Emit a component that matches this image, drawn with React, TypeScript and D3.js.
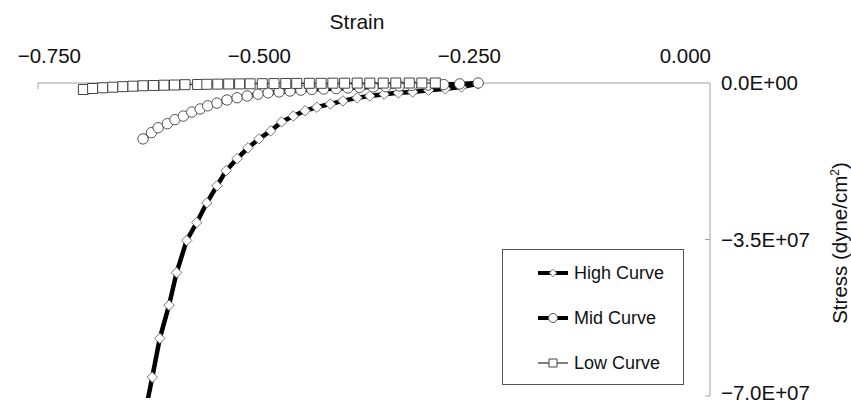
import React from 'react';
import * as d3 from 'd3';

// strain values and stress values (stress in units of 1e6 dyne/cm2)
const highStrain = [-0.675, -0.664, -0.655, -0.644, -0.635, -0.623, -0.611, -0.599, -0.587, -0.576, -0.563, -0.55, -0.537, -0.523, -0.51, -0.496, -0.482, -0.468, -0.452, -0.437, -0.42, -0.405, -0.388, -0.371, -0.354, -0.335, -0.315, -0.296, -0.276];
const highStress = [-76.2, -65.8, -57.1, -49.7, -42.4, -35.2, -31.2, -26.8, -23.0, -19.6, -16.9, -14.5, -12.5, -10.7, -8.7, -7.4, -6.2, -5.4, -4.7, -4.0, -3.3, -2.9, -2.5, -2.2, -2.0, -1.6, -1.3, -0.9, -0.2];

const midStrain = [-0.675, -0.665, -0.657, -0.646, -0.637, -0.627, -0.617, -0.607, -0.598, -0.587, -0.575, -0.563, -0.551, -0.538, -0.526, -0.513, -0.5, -0.487, -0.474, -0.46, -0.445, -0.431, -0.417, -0.401, -0.386, -0.37, -0.355, -0.336, -0.317, -0.298, -0.276];
const midStress = [-12.5, -11.1, -10.0, -9.1, -8.2, -7.4, -6.5, -5.8, -5.1, -4.5, -3.8, -3.3, -2.9, -2.5, -2.2, -2.0, -1.8, -1.6, -1.45, -1.35, -1.25, -1.1, -1.0, -0.9, -0.8, -0.65, -0.55, -0.45, -0.35, -0.2, 0];

const lowStrain = [-0.746, -0.735, -0.723, -0.711, -0.699, -0.687, -0.675, -0.6625, -0.65, -0.6375, -0.625, -0.61, -0.599, -0.586, -0.573, -0.56, -0.5475, -0.533, -0.519, -0.505, -0.492, -0.477, -0.463, -0.449, -0.435, -0.42, -0.405, -0.389, -0.374, -0.358, -0.343, -0.327];
const lowStress = [-1.45, -1.23, -1.07, -0.94, -0.82, -0.71, -0.62, -0.56, -0.49, -0.45, -0.38, -0.33, -0.29, -0.25, -0.22, -0.2, -0.18, -0.16, -0.13, -0.11, -0.09, -0.07, -0.07, -0.04, -0.04, -0.02, -0.02, -0.02, 0, 0, 0, 0];

const seriesNames = ['High Curve', 'Mid Curve', 'Low Curve'];
const xTicks = [-0.75, -0.5, -0.25, 0];
const yTicks = [0, -3.5e7, -7e7];

const font = '"Liberation Sans", Arial, sans-serif';

const fmtX = (v: number) => d3.format('.3f')(v).replace('-', '\u2212');
const fmtY = (v: number) => {
  const e = v === 0 ? 0 : Math.floor(Math.log10(Math.abs(v)));
  const m = v / Math.pow(10, e);
  return `${m < 0 ? '\u2212' : ''}${Math.abs(m).toFixed(1)}E+${String(e).padStart(2, '0')}`;
};

const App = () => {
  const width = 851, height = 404;
  const x = d3.scaleLinear().domain([-0.8, 0]).range([38, 710]);
  const y = d3.scaleLinear().domain([-7e7, 0]).range([396, 83]);

  const zip = (a: number[], b: number[]) => a.map((v, i) => [v, b[i] * 1e6] as [number, number]);
  const high = zip(highStrain, highStress);
  const mid = zip(midStrain, midStress);
  const low = zip(lowStrain, lowStress);

  const line = d3.line<[number, number]>().x(d => x(d[0])).y(d => y(d[1]));
  const diamond = d3.symbol().type(d3.symbolDiamond2).size(70)();
  const square = d3.symbol().type(d3.symbolSquare).size(100)();
  const diamondSm = d3.symbol().type(d3.symbolDiamond2).size(36)();
  const squareSm = d3.symbol().type(d3.symbolSquare).size(64)();

  const [x0, x1] = x.range();
  const [yb, yt] = y.range();

  const legendRows = [273, 318, 363];

  return (
    <svg width={width} height={height} style={{ position: 'absolute', left: 0, top: 0, background: '#fff' }} fontFamily={font}>
      <defs>
        <clipPath id="plot">
          <rect x={x0} y={yt - 10} width={x1 - x0} height={yb - yt + 12} />
        </clipPath>
      </defs>

      {/* x axis (top) */}
      <g>
        <path d={`M${x0},${yt + 6}V${yt}H${x1}`} fill="none" stroke="#a0a0a0" strokeWidth={1} />
        {xTicks.map((t, i) => (
          <text key={i} x={x(t) + 1} y={63} textAnchor="end" fontSize={20.5} fill="#111">{fmtX(t)}</text>
        ))}
        <text x={357} y={29} textAnchor="middle" fontSize={21} fill="#111">Strain</text>
      </g>

      {/* y axis (right) */}
      <g>
        <path d={`M${x1},${yt}V${yb}`} fill="none" stroke="#a0a0a0" strokeWidth={1} />
        {yTicks.map((t, i) => (
          <g key={i} transform={`translate(${x1},${y(t)})`}>
            {t !== 0 && <line x1={-5} x2={0} stroke="#a0a0a0" />}
            <text x={11} dy={i === 2 ? '0.2em' : '0.36em'} fontSize={20.5} fill="#111">{fmtY(t)}</text>
          </g>
        ))}
        <text transform="translate(847,243) rotate(-90)" textAnchor="middle" fontSize={20.5} fill="#111">
          Stress (dyne/cm<tspan dy={-8} fontSize={12}>2</tspan><tspan dy={8}>)</tspan>
        </text>
      </g>

      {/* series */}
      <g clipPath="url(#plot)">
        <path d={line(high) || ''} fill="none" stroke="#000" strokeWidth={4.5} />
        {high.map((d, i) => (
          <path key={i} d={diamond || ''} transform={`translate(${x(d[0])},${y(d[1])})`} fill="#fff" stroke="#666" strokeWidth={0.9} />
        ))}
        <path d={line(mid) || ''} fill="none" stroke="#000" strokeWidth={4.5} />
        {mid.map((d, i) => (
          <circle key={i} cx={x(d[0])} cy={y(d[1])} r={5.2} fill="#fff" stroke="#555" strokeWidth={1} />
        ))}
        <path d={line(low) || ''} fill="none" stroke="#000" strokeWidth={1} />
        {low.map((d, i) => (
          <path key={i} d={square || ''} transform={`translate(${x(d[0])},${y(d[1])})`} fill="#fff" stroke="#444" strokeWidth={1} />
        ))}
      </g>

      {/* legend */}
      <g>
        <rect x={502.5} y={249.5} width={181} height={135} fill="#fff" stroke="#555" strokeWidth={1} />
        {seriesNames.map((name, i) => {
          const ry = legendRows[i];
          return (
            <g key={i}>
              <line x1={538} x2={568} y1={ry} y2={ry} stroke="#000" strokeWidth={i === 2 ? 1 : 4} />
              {i === 0 && <path d={diamondSm || ''} transform={`translate(553,${ry})`} fill="#fff" stroke="#666" strokeWidth={0.9} />}
              {i === 1 && <circle cx={553} cy={ry} r={4.5} fill="#fff" stroke="#555" />}
              {i === 2 && <path d={squareSm || ''} transform={`translate(553,${ry})`} fill="#fff" stroke="#444" />}
              <text x={574} y={ry} dy="0.36em" fontSize={18} fill="#111">{name}</text>
            </g>
          );
        })}
      </g>
    </svg>
  );
};

export default App;
